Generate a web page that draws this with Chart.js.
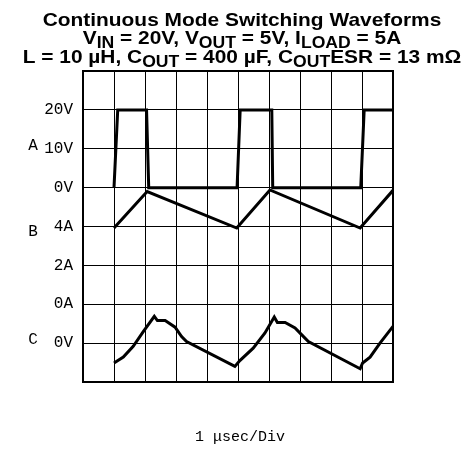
<!DOCTYPE html>
<html>
<head>
<meta charset="utf-8">
<script src="https://cdn.jsdelivr.net/npm/chart.js"></script>
<style>
  html, body { margin: 0; padding: 0; background: #fff; }
  canvas { display: block; }
</style>
</head>
<body>
<canvas id="scope" width="470" height="449"></canvas>
<script>
// time axis: 1 µsec per division, 10 divisions
const xDivs = [0, 1, 2, 3, 4, 5, 6, 7, 8, 9, 10];
// vertical grid rows (0 = bottom line) and their labels
const yTickLabels = ['', '0V', '0A', '2A', '4A', '0V', '10V', '20V', ''];
const traceNames = ['A', 'B', 'C'];

// trace A: switch voltage (V)
const aTime = [1.0, 1.12, 2.05, 2.12, 4.97, 5.07, 6.09, 6.12, 8.96, 9.07, 10];
const aVolts = [0, 20, 20, 0, 0, 20, 20, 0, 0, 20, 20];

// trace B: inductor current (A)
const bTime = [1.0, 2.07, 4.96, 6.03, 8.94, 10];
const bAmps = [3.92, 5.8, 3.92, 5.88, 3.92, 5.86];

// trace C: output ripple (divisions above its 0V line)
const cTime = [1.0, 1.3, 1.62, 1.95, 2.3, 2.4, 2.65, 2.97, 3.18, 3.34, 4.9,
               5.06, 5.49, 5.87, 6.17, 6.27, 6.52, 6.84, 7.05, 7.27, 8.94,
               9.02, 9.26, 9.58, 10];
const cRipple = [-0.51, -0.36, -0.08, 0.30, 0.69, 0.58, 0.58, 0.41, 0.17, 0.04, -0.60,
                 -0.45, -0.13, 0.26, 0.67, 0.53, 0.53, 0.39, 0.22, 0.04, -0.66,
                 -0.51, -0.36, 0.0, 0.43];

// rows where each trace has its zero, and units per division
const aZeroRow = 5, aPerDiv = 10;
const bZeroRow = 2, bPerDiv = 2;
const cZeroRow = 1;

const titleLines = [
    [['Continuous Mode Switching Waveforms', 0]],
    [['V', 0], ['IN', 1], [' = 20V, V', 0], ['OUT', 1], [' = 5V, I', 0], ['LOAD', 1], [' = 5A', 0]],
    [['L = 10 µH, C', 0], ['OUT', 1], [' = 400 µF, C', 0], ['OUT', 1], ['ESR = 13 mΩ', 0]]
];
const xTitle = '1 \u03bcsec/Div';

const toPoints = (xs, ys, f) => xs.map((x, i) => ({ x: x, y: f(ys[i]) }));

const traceStyle = {
    borderColor: '#000',
    borderWidth: 3,
    pointRadius: 0,
    tension: 0,
    fill: false
};

const labelsPlugin = {
    id: 'labels',
    afterDraw(chart) {
        const ctx = chart.ctx;
        const area = chart.chartArea;
        const ys = chart.scales.y;

        // frame round the screen
        ctx.save();
        ctx.strokeStyle = '#000';
        ctx.lineWidth = 2;
        ctx.strokeRect(area.left, area.top, area.right - area.left, area.bottom - area.top);

        // title with subscripts
        const big = 'bold 19px "Liberation Sans", Arial, sans-serif';
        const small = 'bold 16px "Liberation Sans", Arial, sans-serif';
        const baselines = [26, 44, 63];
        const sx = 1.1;
        ctx.fillStyle = '#000';
        ctx.textBaseline = 'alphabetic';
        ctx.textAlign = 'left';
        titleLines.forEach((segs, li) => {
            let w = 0;
            segs.forEach(s => { ctx.font = s[1] ? small : big; w += ctx.measureText(s[0]).width; });
            ctx.save();
            ctx.translate(242, 0);
            ctx.scale(sx, 1);
            let x = -w / 2;
            segs.forEach(s => {
                ctx.font = s[1] ? small : big;
                ctx.fillText(s[0], x, baselines[li] + (s[1] ? 4 : 0));
                x += ctx.measureText(s[0]).width;
            });
            ctx.restore();
        });

        // trace names
        ctx.font = '16px "Liberation Mono", monospace';
        ctx.textAlign = 'center';
        ctx.textBaseline = 'middle';
        ctx.fillText(traceNames[0], 33, ys.getPixelForValue(6) - 3);
        ctx.fillText(traceNames[1], 33, ys.getPixelForValue(4) + 5);
        ctx.fillText(traceNames[2], 33, ys.getPixelForValue(1) - 3);

        // time base
        ctx.font = '15px "Liberation Mono", monospace';
        ctx.textBaseline = 'alphabetic';
        ctx.fillText(xTitle, 240, 441);
        ctx.restore();
    }
};

new Chart(document.getElementById('scope'), {
    type: 'line',
    data: {
        datasets: [
            Object.assign({ label: 'A', data: toPoints(aTime, aVolts, v => aZeroRow + v / aPerDiv) }, traceStyle),
            Object.assign({ label: 'B', data: toPoints(bTime, bAmps, a => bZeroRow + a / bPerDiv) }, traceStyle),
            Object.assign({ label: 'C', data: toPoints(cTime, cRipple, d => cZeroRow + d) }, traceStyle)
        ]
    },
    options: {
        responsive: false,
        animation: false,
        devicePixelRatio: 1,
        layout: { padding: { left: 0, right: 77, top: 71, bottom: 67 } },
        plugins: {
            legend: { display: false },
            tooltip: { enabled: false },
            title: { display: false }
        },
        scales: {
            x: {
                type: 'linear',
                min: xDivs[0],
                max: xDivs[xDivs.length - 1],
                afterBuildTicks: s => { s.ticks = xDivs.map(v => ({ value: v })); },
                afterFit: s => { s.height = 0; },
                ticks: { display: false },
                grid: { color: '#000', lineWidth: 1, drawTicks: false },
                border: { color: '#000', width: 2 }
            },
            y: {
                type: 'linear',
                min: 0,
                max: yTickLabels.length - 1,
                afterBuildTicks: s => { s.ticks = yTickLabels.map((l, i) => ({ value: i })); },
                afterFit: s => { s.width = 83; },
                ticks: {
                    padding: 10,
                    color: '#000',
                    font: { family: '"Liberation Mono", monospace', size: 16 },
                    callback: v => yTickLabels[v]
                },
                grid: { color: '#000', lineWidth: 1, drawTicks: false },
                border: { color: '#000', width: 2 }
            }
        }
    },
    plugins: [labelsPlugin]
});
</script>
</body>
</html>
